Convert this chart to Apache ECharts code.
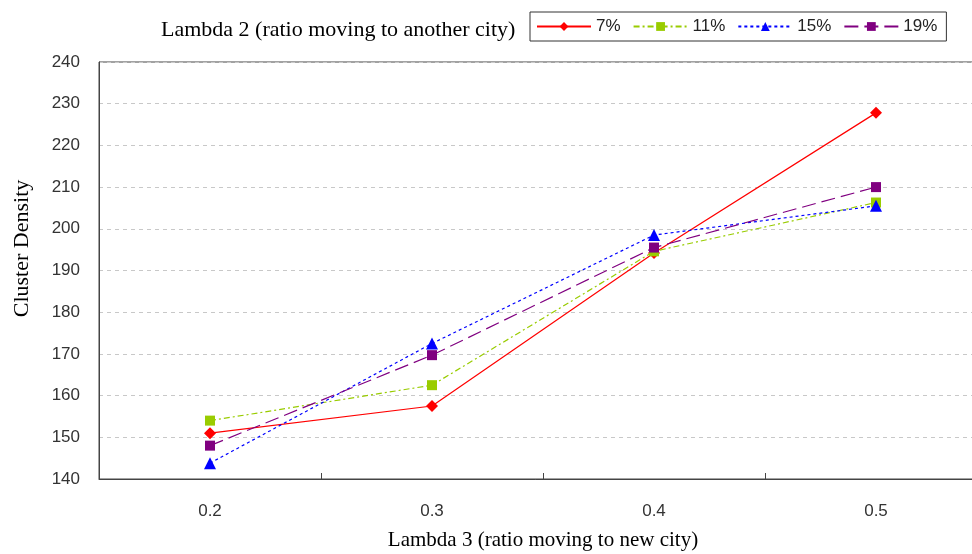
<!DOCTYPE html>
<html>
<head>
<meta charset="utf-8">
<script src="https://cdn.jsdelivr.net/npm/echarts@6/dist/echarts.min.js"></script>
<style>
html,body{margin:0;padding:0;background:#fff;}
#main{width:972px;height:554px;}
</style>
</head>
<body>
<div id="main"></div>
<script>
// categories (lambda 3) and y ticks
var categories = ['0.2', '0.3', '0.4', '0.5'];
var seriesNames = ['7%', '11%', '15%', '19%'];
// cluster density for each lambda 2 value
var data7 = [151, 157.5, 194.2, 227.8];
var data11 = [154, 162.5, 194.6, 206.3];
var data15 = [143.8, 172.5, 198.5, 205.5];
var data19 = [148, 169.7, 195.5, 210];

var chart = echarts.init(document.getElementById('main'));
var serif = '"Liberation Serif", "DejaVu Serif", serif';
var sans = '"Liberation Sans", "DejaVu Sans", sans-serif';

function mk(name, data, color, type, symbol, size){
	return {
		name: name,
		type: 'line',
		data: data,
		symbol: symbol,
		symbolSize: size,
		showAllSymbol: true,
		color: color,
		itemStyle: {color: color},
		lineStyle: {color: color, width: 1.2, type: type},
		emphasis: {disabled: true},
		z: 3
	};
}

chart.setOption({
	backgroundColor: '#fff',
	animation: false,
	title: {
		text: 'Lambda 2 (ratio moving to another city)',
		left: 156, top: 14,
		textStyle: {fontFamily: serif, fontSize: 22, fontWeight: 'normal', color: '#000'}
	},
	legend: {
		data: seriesNames,
		left: 530, top: 12,
		padding: [6, 9, 6, 6],
		borderColor: '#333', borderWidth: 1,
		itemWidth: 54, itemHeight: 11, itemGap: 12,
		textStyle: {fontFamily: sans, fontSize: 17, color: '#222'}
	},
	grid: {
		left: 99, top: 62, right: -15, bottom: 75,
		outerBoundsMode: 'none',
		containLabel: false,
		show: true, borderColor: '#444', borderWidth: 1
	},
	xAxis: {
		type: 'category',
		data: categories,
		boundaryGap: true,
		name: 'Lambda 3 (ratio moving to new city)',
		nameLocation: 'middle',
		nameGap: 51,
		nameTextStyle: {fontFamily: serif, fontSize: 21, color: '#000'},
		axisLine: {lineStyle: {color: '#444'}},
		axisTick: {show: true, inside: true, length: 6, interval: 0, lineStyle: {color: '#444'}},
		axisLabel: {fontFamily: sans, fontSize: 17, color: '#333', margin: 24}
	},
	yAxis: {
		type: 'value',
		min: 140, max: 240, interval: 10,
		name: 'Cluster Density',
		nameLocation: 'middle',
		nameGap: 66,
		nameTextStyle: {fontFamily: serif, fontSize: 22, color: '#000', padding: [0, 0, 0, 44]},
		axisLine: {show: true, lineStyle: {color: '#444'}},
		axisTick: {show: false},
		axisLabel: {fontFamily: sans, fontSize: 17, color: '#333', margin: 19},
		splitLine: {lineStyle: {color: '#c8c8c8', type: [4, 4]}}
	},
	series: [
		mk('7%', data7, '#ff0000', 'solid', 'diamond', 12),
		mk('11%', data11, '#99cc00', [6, 3, 2, 3], 'rect', 10),
		mk('15%', data15, '#0000ff', [3, 3], 'triangle', 12),
		mk('19%', data19, '#800080', [14, 6], 'rect', 10)
	]
});
</script>
</body>
</html>
